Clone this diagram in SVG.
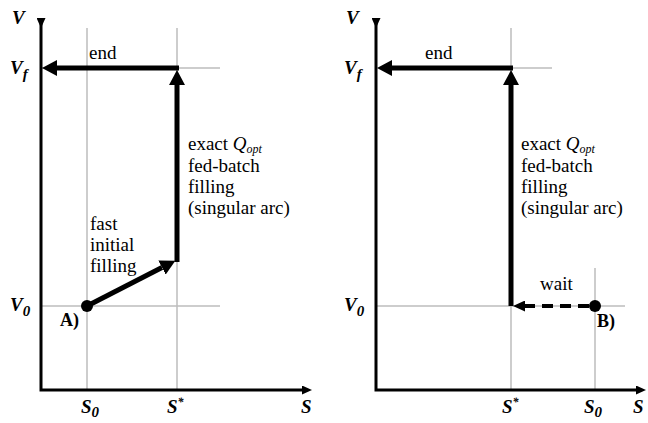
<svg xmlns="http://www.w3.org/2000/svg" width="648" height="423" viewBox="0 0 648 423" font-family="Liberation Serif, Times New Roman, DejaVu Serif, serif">
<style>
.grid{stroke:#bdbdbd;stroke-width:1.5;fill:none}
.axis{stroke:#000;stroke-width:3;fill:none}
.thick{stroke:#000;stroke-width:5;fill:none}
.dash{stroke:#000;stroke-width:4;fill:none;stroke-dasharray:11,7}
.lbl{font-size:19px;fill:#000}
.ax{font-size:19px;font-weight:bold;font-style:italic;fill:#000}
.pt{font-size:18px;font-weight:bold;fill:#000}
</style>
<defs>
<marker id="ah" viewBox="0 -8 15 16" refX="0" refY="0" markerWidth="15" markerHeight="16" markerUnits="userSpaceOnUse" orient="auto"><path d="M0,-8 L15,0 L0,8 z" fill="#000"/></marker>
<marker id="axh" viewBox="0 -4.5 10 9" refX="0" refY="0" markerWidth="10" markerHeight="9" markerUnits="userSpaceOnUse" orient="auto"><path d="M0,-4.5 L10,0 L0,4.5 z" fill="#000"/></marker>
<marker id="dh" viewBox="0 -5.5 12 11" refX="0" refY="0" markerWidth="12" markerHeight="11" markerUnits="userSpaceOnUse" orient="auto"><path d="M0,-5.5 L12,0 L0,5.5 z" fill="#000"/></marker>
</defs>

<g id="grid-left">
<line class="grid" x1="87" y1="28" x2="87" y2="390"/>
<line class="grid" x1="177" y1="28" x2="177" y2="390"/>
<line class="grid" x1="41" y1="68" x2="220" y2="68"/>
<line class="grid" x1="41" y1="306" x2="220" y2="306"/>
</g>
<g id="grid-right">
<line class="grid" x1="511" y1="28" x2="511" y2="390"/>
<line class="grid" x1="595" y1="268" x2="595" y2="390"/>
<line class="grid" x1="511" y1="68" x2="552" y2="68"/>
<line class="grid" x1="376" y1="306" x2="625" y2="306"/>
</g>

<g id="axes">
<polyline class="axis" points="41,18 41,390 302,390" marker-start="url(#axh)" marker-end="url(#axh)"/>
<polyline class="axis" points="376,18 376,390 636,390" marker-start="url(#axh)" marker-end="url(#axh)"/>
</g>

<g id="connectors">
<line class="thick" x1="179" y1="68" x2="57" y2="68" marker-end="url(#ah)"/>
<line class="thick" x1="177" y1="262" x2="177" y2="85" marker-end="url(#ah)"/>
<line class="thick" x1="87" y1="306" x2="162" y2="267.5" marker-end="url(#ah)"/>
<line class="thick" x1="513" y1="68" x2="392" y2="68" marker-end="url(#ah)"/>
<line class="thick" x1="511" y1="306" x2="511" y2="85" marker-end="url(#ah)"/>
<line class="dash" x1="589" y1="306" x2="525" y2="306" marker-end="url(#dh)"/>
</g>

<g id="pointA">
<circle cx="87" cy="306" r="6" fill="#000"/>
<text class="pt" x="60" y="326">A)</text>
</g>
<g id="pointB">
<circle cx="595" cy="306" r="6" fill="#000"/>
<text class="pt" x="597" y="327">B)</text>
</g>

<g id="labels-left">
<text class="lbl" x="89" y="59">end</text>
<text class="lbl" x="90" y="230">fast</text>
<text class="lbl" x="90" y="251">initial</text>
<text class="lbl" x="90" y="272">filling</text>
<text class="lbl" x="188" y="150">exact <tspan font-style="italic">Q</tspan><tspan font-style="italic" font-size="12px" dy="3">opt</tspan></text>
<text class="lbl" x="188" y="172">fed-batch</text>
<text class="lbl" x="188" y="193">filling</text>
<text class="lbl" x="188" y="214">(singular arc)</text>
</g>
<g id="labels-right">
<text class="lbl" x="425" y="59">end</text>
<text class="lbl" x="540" y="290">wait</text>
<text class="lbl" x="521" y="150">exact <tspan font-style="italic">Q</tspan><tspan font-style="italic" font-size="12px" dy="3">opt</tspan></text>
<text class="lbl" x="521" y="172">fed-batch</text>
<text class="lbl" x="521" y="193">filling</text>
<text class="lbl" x="521" y="214">(singular arc)</text>
</g>

<g id="axis-labels-left">
<text class="ax" x="12" y="24">V</text>
<text class="ax" x="10" y="74">V<tspan font-size="15px" dy="5">f</tspan></text>
<text class="ax" x="10" y="311">V<tspan font-size="15px" dy="5">0</tspan></text>
<text class="ax" x="81" y="413">S<tspan font-size="15px" dy="4">0</tspan></text>
<text class="ax" x="167" y="413">S<tspan font-size="12px" dy="-7">*</tspan></text>
<text class="ax" x="301" y="413">S</text>
</g>
<g id="axis-labels-right">
<text class="ax" x="346" y="24">V</text>
<text class="ax" x="344" y="74">V<tspan font-size="15px" dy="5">f</tspan></text>
<text class="ax" x="344" y="311">V<tspan font-size="15px" dy="5">0</tspan></text>
<text class="ax" x="502" y="413">S<tspan font-size="12px" dy="-7">*</tspan></text>
<text class="ax" x="584" y="413">S<tspan font-size="15px" dy="4">0</tspan></text>
<text class="ax" x="633" y="413">S</text>
</g>
</svg>
